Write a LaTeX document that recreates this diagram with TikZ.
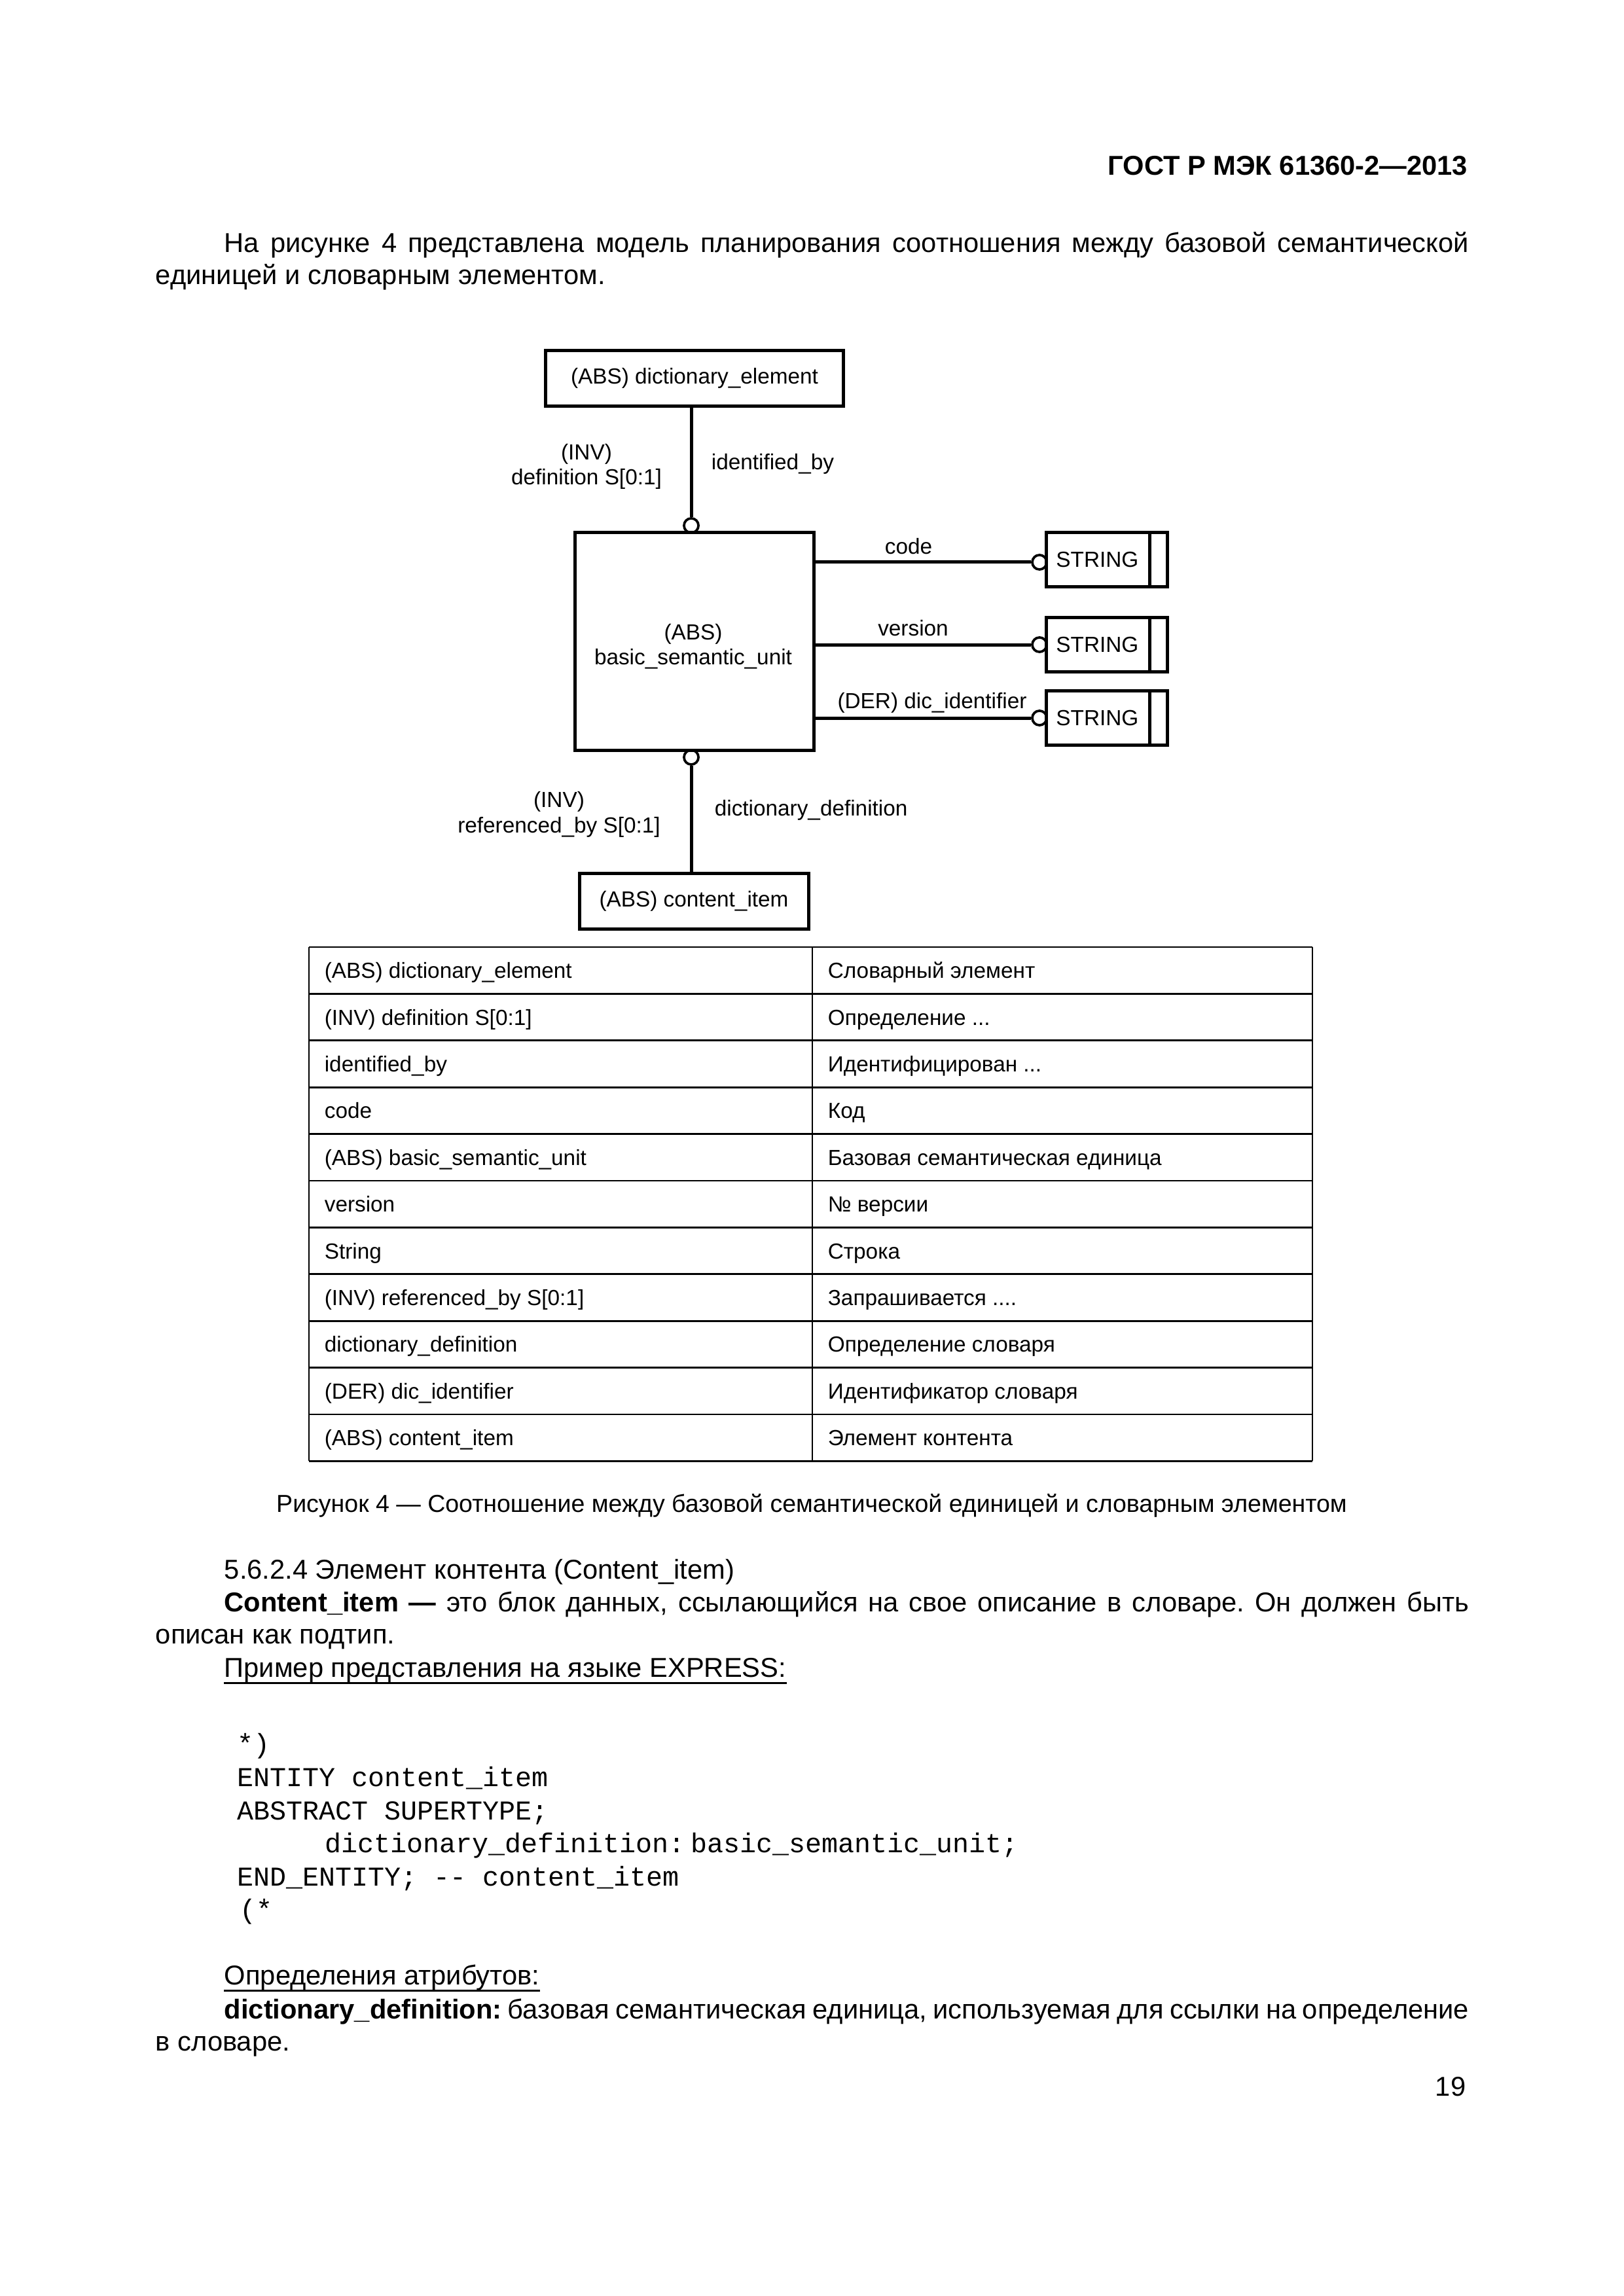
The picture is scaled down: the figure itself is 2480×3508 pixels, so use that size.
\documentclass[tikz,border=0pt]{standalone}
\usepackage{fontspec}
\setmainfont{Liberation Sans}
\setmonofont{Liberation Mono}
\newcommand\bodyf{\fontsize{10pt}{12pt}\selectfont}
\newcommand\figf{\fontsize{8pt}{9.6pt}\selectfont}
\newcommand\capf{\fontsize{9pt}{10.8pt}\selectfont}
\newcommand\codef{\ttfamily\fontsize{10pt}{12pt}\selectfont}
\frenchspacing
\begin{document}
\begin{tikzpicture}[x=0.24pt,y=-0.24pt,
  ent/.style={draw, line width=1.2pt, inner sep=0pt, font=\figf, align=center},
  strbox/.style={draw, line width=1.2pt, inner sep=0pt, font=\figf, minimum width=44.2pt, minimum height=19.9pt},
  endc/.style={circle, draw, line width=0.9pt, minimum size=5.3pt, inner sep=0pt},
  conn/.style={line width=1.2pt},
  lbl/.style={font=\figf, inner sep=0pt, anchor=base},
  txt/.style={font=\bodyf, inner sep=0pt, anchor=base west},
  cell/.style={font=\figf, inner sep=0pt, anchor=base west},
  code/.style={font=\codef, inner sep=0pt, anchor=base west},
  tline/.style={line width=0.65pt},
  uline/.style={line width=0.8pt}
]
\fill[white] (0,0) rectangle (2480,3508);
\useasboundingbox (0,0) rectangle (2480,3508);

% header and intro
\node[font=\bodyf\bfseries, inner sep=0pt, anchor=base east] (hdr) at (2243,268) {ГОСТ Р МЭК 61360-2—2013};
\node[txt] (p1) at (342,386) {\makebox[456.3pt][s]{На рисунке 4 представлена модель планирования соотношения между базовой семантической}};
\node[txt] (p2) at (237,435) {единицей и словарным элементом.};

% diagram
\node[ent, minimum width=109pt, minimum height=20.2pt] (de) at (1061,578) {(ABS) dictionary\_element};
\node[ent, minimum width=87.8pt, minimum height=79.7pt] (bsu) at (1061,980) {};
\node[lbl] (bsu1) at (1059,978) {(ABS)};
\node[lbl] (bsu2) at (1059,1015) {basic\_semantic\_unit};
\node[ent, minimum width=84pt, minimum height=20.2pt] (ci) at (1060,1377) {(ABS) content\_item};
\node[strbox] (s1) at (1691,855) {STRING\hspace*{7pt}};
\node[strbox] (s2) at (1691,985) {STRING\hspace*{7pt}};
\node[strbox] (s3) at (1691,1097) {STRING\hspace*{7pt}};
\foreach \s in {s1,s2,s3}{
  \draw[conn] ([xshift=-7pt]\s.north east) -- ([xshift=-7pt]\s.south east);
}
\node[endc] (c0) at (1056,803) {};
\node[endc] (cb) at (1056,1157) {};
\node[endc] (c1) at (1588,859) {};
\node[endc] (c2) at (1588,985) {};
\node[endc] (c3) at (1588,1097) {};
\draw[conn] (de.south -| c0) -- (c0.north);
\draw[conn] (cb.south) -- (ci.north -| cb);
\draw[conn] (bsu.east |- c1) -- (c1.west);
\draw[conn] (bsu.east |- c2) -- (c2.west);
\draw[conn] (bsu.east |- c3) -- (c3.west);

\node[lbl] (inv1) at (896,703) {(INV)};
\node[lbl] (def1) at (896,741) {definition S[0:1]};
\node[lbl, anchor=base west] (idb) at (1086,718) {identified\_by};
\node[lbl] (lcode) at (1388,847) {code};
\node[lbl] (lver) at (1395,971) {version};
\node[lbl] (lder) at (1424,1082) {(DER) dic\_identifier};
\node[lbl] (inv2) at (854,1233) {(INV)};
\node[lbl] (ref2) at (854,1272) {referenced\_by S[0:1]};
\node[lbl, anchor=base west] (ddef) at (1091,1246) {dictionary\_definition};

% table
\foreach \k in {0,...,11}{
  \draw[tline] (472,{1447+71.4*\k}) -- (2005,{1447+71.4*\k});
}
\foreach \xx in {472,1241,2005}{
  \draw[tline] (\xx,1447) -- (\xx,2232.4);
}
\foreach \i/\a/\b in {
  1/{(ABS) dictionary\_element}/{Словарный элемент},
  2/{(INV) definition S[0:1]}/{Определение ...},
  3/{identified\_by}/{Идентифицирован ...},
  4/{code}/{Код},
  5/{(ABS) basic\_semantic\_unit}/{Базовая семантическая единица},
  6/{version}/{№ версии},
  7/{String}/{Строка},
  8/{(INV) referenced\_by S[0:1]}/{Запрашивается ....},
  9/{dictionary\_definition}/{Определение словаря},
  10/{(DER) dic\_identifier}/{Идентификатор словаря},
  11/{(ABS) content\_item}/{Элемент контента}}{
  \node[cell] (l\i) at (495,{1423.3+71.4*\i}) {\a};
  \node[cell] (r\i) at (1264,{1423.3+71.4*\i}) {\b};
}

% caption
\node[font=\capf, inner sep=0pt, anchor=base] (cap) at (1240,2310) {Рисунок 4 — Соотношение между базовой семантической единицей и словарным элементом};

% section text
\node[txt] (h1) at (342,2412) {5.6.2.4 Элемент контента (Content\_item)};
\node[txt] (q1) at (342,2462) {\makebox[456.3pt][s]{\textbf{Content\_item —} это блок данных, ссылающийся на свое описание в словаре. Он должен быть}};
\node[txt] (q2) at (237,2511) {описан как подтип.};
\node[txt] (q3) at (342,2562) {Пример представления на языке EXPRESS:};
\draw[uline] ([yshift=-2.2pt]q3.base west) -- ([yshift=-2.2pt]q3.base east);

% code
\node[code] (k1) at (362,2678) {*)};
\node[code] (k2) at (362,2729) {ENTITY content\_item};
\node[code] (k3) at (362,2780) {ABSTRACT SUPERTYPE;};
\node[code] (k4) at (496,2830) {dictionary\_definition:\hspace{2pt}basic\_semantic\_unit;};
\node[code] (k5) at (362,2881) {END\_ENTITY; -- content\_item};
\node[code] (k6) at (366,2931) {(*};

% definitions
\node[txt] (d1) at (342,3032) {Определения атрибутов:};
\draw[uline] ([yshift=-2.2pt]d1.base west) -- ([yshift=-2.2pt]d1.base east);
\node[txt] (d2) at (342,3084) {\makebox[456.3pt][s]{\textbf{dictionary\_definition:} базовая семантическая единица, используемая для ссылки на определение}};
\node[txt] (d3) at (237,3133) {в словаре.};
\node[font=\bodyf, inner sep=0pt, anchor=base east] (pg) at (2240,3202) {19};
\end{tikzpicture}
\end{document}
